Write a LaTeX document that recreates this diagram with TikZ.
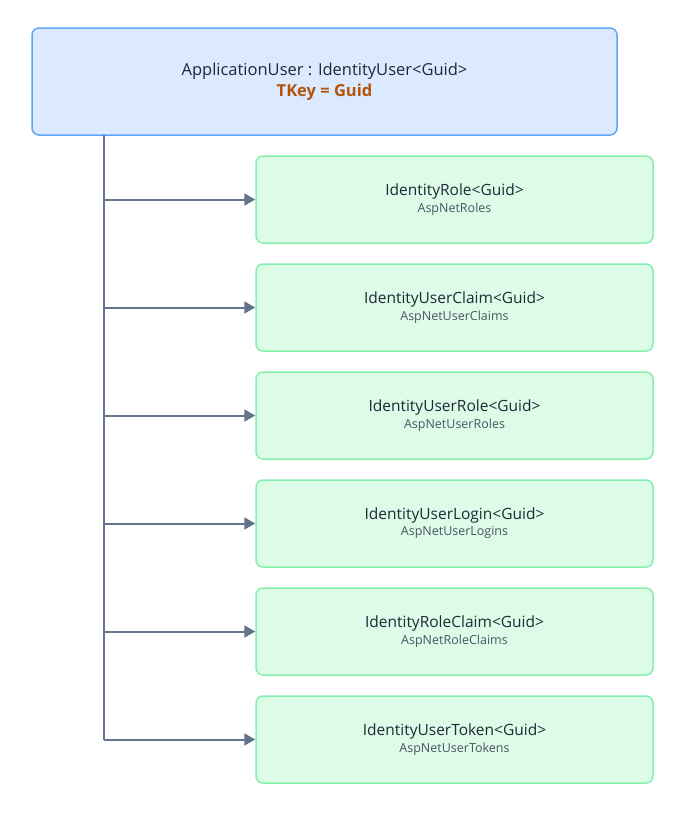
\documentclass[tikz,border=0pt]{standalone}
\usepackage{fontspec}
\setmainfont{Open Sans}
\usetikzlibrary{arrows.meta}
\definecolor{userfill}{HTML}{DBEAFE}
\definecolor{userdraw}{HTML}{60A5FA}
\definecolor{entfill}{HTML}{DCFCE7}
\definecolor{entdraw}{HTML}{86EFAC}
\definecolor{linkcol}{HTML}{64748B}
\definecolor{keycol}{HTML}{B45309}
\definecolor{txtcol}{HTML}{1F2937}
\definecolor{subcol}{HTML}{4B5563}
\tikzset{
userbox/.style = {draw = userdraw, fill = userfill, line width = 1.5pt, rounded corners = 7pt,
  minimum width = 585pt, minimum height = 107pt, align = center, text = txtcol},
entbox/.style = {draw = entdraw, fill = entfill, line width = 1.5pt, rounded corners = 7pt,
  minimum width = 397pt, minimum height = 87pt, align = center, text = txtcol},
link/.style = {line width = 2pt, color = linkcol},
linkarrow/.style = {link, -{Triangle[length=11pt,width=12pt]}}}
\begin{document}
\begin{tikzpicture}[x=1pt,y=-1pt]
\useasboundingbox (0,0) rectangle (686,820);
%
% base class
\node[userbox] (user) at (324.5,81.5) {\fontsize{16.5}{24}\selectfont ApplicationUser : IdentityUser<Guid>\\[4pt]
  \fontsize{16.5}{20}\selectfont\bfseries\color{keycol}TKey = Guid};
%
% entity boxes
\foreach \name/\title/\tab [count=\i] in {
  role/IdentityRole/AspNetRoles,
  claim/IdentityUserClaim/AspNetUserClaims,
  urole/IdentityUserRole/AspNetUserRoles,
  login/IdentityUserLogin/AspNetUserLogins,
  rclaim/IdentityRoleClaim/AspNetRoleClaims,
  token/IdentityUserToken/AspNetUserTokens}{
  \node[entbox] (\name) at (454.5,199.5+108*\i-108) {\fontsize{15.5}{20}\selectfont \title<Guid>\\[2pt]
    \fontsize{12.5}{16}\selectfont\color{subcol}\tab};
  \coordinate (b\name) at (104,\i*108+91.5);
  \draw[linkarrow] (b\name) -- (\name.west);
}
%
% trunk
\coordinate (top) at (104,135);
\draw[link] (top) -- (btoken);
%
\end{tikzpicture}
\end{document}
